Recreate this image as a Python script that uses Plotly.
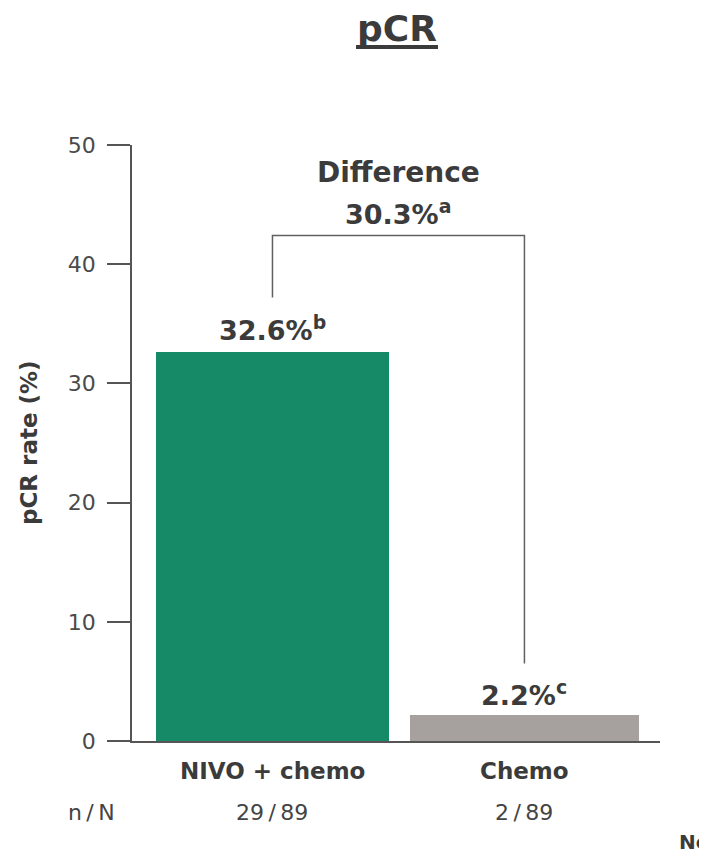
import plotly.graph_objects as go

categories = ["NIVO + chemo", "Chemo"]
rates = [32.6, 2.2]
rate_labels = ["32.6%<sup>b</sup>", "2.2%<sup>c</sup>"]
n_over_N = ["29/89", "2/89"]
y_ticks = [0, 10, 20, 30, 40, 50]

bar_colors = ["#168a66", "#a6a09f"]
text_color = "#3b3b3b"
axis_color = "#555555"
font_family = "DejaVu Sans, Verdana, sans-serif"

# page body has an 8px margin; work in reference-pixel coords and subtract it
OFF = 8
W, H = 707 - OFF, 852 - OFF
L, T, R, B = 132 - OFF, 145 - OFF, 47, 852 - 741
PW = W - L - R
PH = H - T - B


def px_x(x):
    return (x - OFF - L) / PW


def px_y(y):
    return (H - B - (y - OFF)) / PH


xpos = list(range(len(categories)))

fig = go.Figure()
fig.add_trace(go.Bar(
    x=xpos, y=rates, width=[0.925, 0.91],
    marker=dict(color=bar_colors, line=dict(width=0)),
    hoverinfo="skip", showlegend=False,
))

# bracket
bracket_top = 42.4
fig.add_trace(go.Scatter(
    x=[xpos[0], xpos[0], xpos[1], xpos[1]],
    y=[37.2, bracket_top, bracket_top, 6.5],
    mode="lines", line=dict(color="#606060", width=1.5),
    hoverinfo="skip", showlegend=False,
))

big = dict(size=27, color=text_color, family=font_family)
mid = dict(size=23, color=text_color, family=font_family)

annotations = []
label_y = [34.6, 4.0]
for i, (lab, ly) in enumerate(zip(rate_labels, label_y)):
    annotations.append(dict(x=xpos[i], y=ly, xref="x", yref="y", text=f"<b>{lab}</b>",
                            showarrow=False, yanchor="middle", font=big))
annotations.append(dict(x=0.5, y=47.7, xref="x", yref="y", text="<b>Difference</b>",
                        showarrow=False, yanchor="middle",
                        font=dict(size=28, color=text_color, family=font_family)))
annotations.append(dict(x=0.5, y=44.3, xref="x", yref="y", text="<b>30.3%<sup>a</sup></b>",
                        showarrow=False, yanchor="middle", font=big))
for i, cat in enumerate(categories):
    annotations.append(dict(x=xpos[i], y=px_y(771), xref="x", yref="paper", text=f"<b>{cat}</b>",
                            showarrow=False, yanchor="middle", font=mid))
    annotations.append(dict(x=xpos[i], y=px_y(812), xref="x", yref="paper",
                            text=n_over_N[i].replace("/", "\u2009/\u2009"),
                            showarrow=False, yanchor="middle",
                            font=dict(size=22, color="#444444", family=font_family)))
annotations.append(dict(x=px_x(91), y=px_y(812), xref="paper", yref="paper",
                        text="n\u2009/\u2009N", showarrow=False, xanchor="center", yanchor="middle",
                        font=dict(size=22, color="#444444", family=font_family)))
annotations.append(dict(x=px_x(677), y=px_y(842), xref="paper", yref="paper",
                        text="<b>No</b>", showarrow=False, xanchor="left", yanchor="middle",
                        font=dict(size=20, color=text_color, family=font_family)))
# y-axis title
annotations.append(dict(x=px_x(29), y=px_y(443), xref="paper", yref="paper",
                        text="<b>pCR rate (%)</b>", textangle=-90, showarrow=False,
                        xanchor="center", yanchor="middle",
                        font=dict(size=23, color=text_color, family=font_family)))
# title
annotations.append(dict(x=px_x(397), y=px_y(29), xref="paper", yref="paper",
                        text="<b>pCR</b>", showarrow=False, xanchor="center", yanchor="middle",
                        font=dict(size=36, color=text_color, family=font_family)))

fig.update_layout(annotations=annotations)
fig.add_shape(type="line", xref="paper", yref="paper",
              x0=px_x(356), x1=px_x(438), y0=px_y(47), y1=px_y(47),
              line=dict(color=text_color, width=4))

fig.update_layout(
    width=W, height=H,
    margin=dict(l=L, r=R, t=T, b=B, autoexpand=False),
    plot_bgcolor="white", paper_bgcolor="white",
    font=dict(family=font_family, color=text_color),
    bargap=0,
    xaxis=dict(range=[-0.5575, 1.538], showticklabels=False, ticks="", showgrid=False,
               zeroline=False, showline=True, linecolor=axis_color, linewidth=1.5, fixedrange=True),
    yaxis=dict(range=[0, 50], tickvals=y_ticks, ticks="outside", ticklen=23, tickwidth=1.5,
               tickcolor=axis_color, showline=True, linecolor=axis_color, linewidth=1.5,
               showgrid=False, zeroline=False, ticklabelstandoff=7,
               tickfont=dict(size=22, color="#4a4a4a", family=font_family)),
)

fig.write_html("out.html")
